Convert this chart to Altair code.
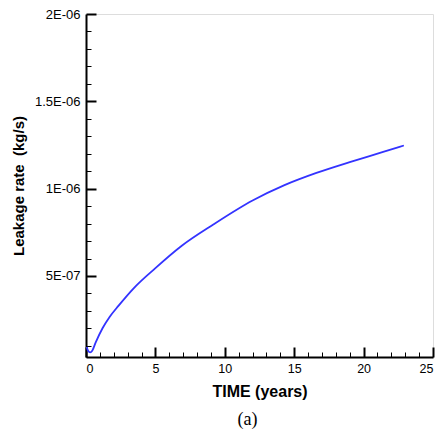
import altair as alt
import pandas as pd

# Data
time_years = [0.05, 0.15, 0.3, 0.45, 0.7, 1.2, 1.7, 2.35, 3.5, 5.0, 6.9, 9.2,
              12.0, 14.3, 16.6, 19.0, 21.35, 22.9]
leak_rate = [9.3e-8, 7.2e-8, 6.3e-8, 7.2e-8, 1.20e-7, 2.02e-7, 2.65e-7, 3.30e-7,
             4.35e-7, 5.45e-7, 6.73e-7, 7.96e-7, 9.32e-7, 1.020e-6, 1.090e-6,
             1.152e-6, 1.209e-6, 1.247e-6]

x_major = [0, 5, 10, 15, 20, 25]
x_minor = [1, 2, 3, 4, 6, 7, 8, 9, 11, 12, 13, 14, 16, 17, 18, 19, 21, 22, 23, 24]
y_major = [5e-7, 1e-6, 1.5e-6, 2e-6]
y_major_labels = ["5E-07", "1E-06", "1.5E-06", "2E-06"]
y_minor = [1e-7, 2e-7, 3e-7, 4e-7, 6e-7, 7e-7, 8e-7, 9e-7, 1.1e-6, 1.2e-6,
           1.3e-6, 1.4e-6, 1.6e-6, 1.7e-6, 1.8e-6, 1.9e-6]
x_domain = [0, 25]
y_domain = [3.6e-8, 2e-6]

df = pd.DataFrame({"t": time_years, "rate": leak_rate})

label_expr = "''"
for v, lab in zip(reversed(y_major), reversed(y_major_labels)):
    label_expr = f"abs(datum.value - {v}) < 1e-12 ? '{lab}' : ({label_expr})"

xs = alt.Scale(domain=x_domain, nice=False, zero=False)
ys = alt.Scale(domain=y_domain, nice=False, zero=False)

FONT = "Liberation Sans"

base = alt.Chart(df)

main = base.mark_line(color="#3333ff", strokeWidth=1.8, interpolate="monotone").encode(
    x=alt.X("t:Q", scale=xs, axis=alt.Axis(
        orient="bottom", values=x_major, format="d", ticks=False, domain=True,
        domainColor="black", domainWidth=2, labelFont=FONT, labelFontSize=12.5,
        labelColor="black", labelPadding=5, title="TIME (years)",
        titleFont=FONT, titleFontSize=16, titleFontWeight="bold",
        titleColor="black", titlePadding=9, grid=False)),
    y=alt.Y("rate:Q", scale=ys, axis=alt.Axis(
        orient="left", values=y_major, labelExpr=label_expr, ticks=False,
        domain=True, domainColor="black", domainWidth=2, labelFont=FONT,
        labelFontSize=13, labelColor="black", labelPadding=6,
        title="Leakage rate\u00a0\u00a0(kg/s)", titleFont=FONT, titleFontSize=15,
        titleFontWeight="bold", titleColor="black", titlePadding=8, grid=False)),
)

def tick_layer(xvals, yvals, length, width):
    return base.mark_line(strokeOpacity=0).encode(
        x=alt.X("t:Q", scale=xs, axis=alt.Axis(
            orient="bottom", values=xvals, offset=-length, tickSize=length,
            tickWidth=width, tickColor="black", labels=False, domain=False,
            title=None, grid=False)),
        y=alt.Y("rate:Q", scale=ys, axis=alt.Axis(
            orient="left", values=yvals, offset=-length, tickSize=length,
            tickWidth=width, tickColor="black", labels=False, domain=False,
            title=None, grid=False)),
    )

major_ticks = tick_layer(x_major, y_major, 10, 2)
minor_ticks = tick_layer(x_minor, y_minor, 5, 1)

chart = alt.layer(main, major_ticks, minor_ticks).resolve_axis(
    x="independent", y="independent"
).properties(
    width=347,
    height=343,
    autosize=alt.AutoSizeParams(type="none"),
    padding={"left": 78, "top": 6, "right": 6, "bottom": 74},
    title=alt.TitleParams("(a)", orient="bottom", font="Liberation Serif",
                          fontSize=18, fontWeight="normal", color="black",
                          anchor="middle", dx=-12, offset=11),
).configure_view(stroke=None).configure(background="white")

chart.save("out.html", embed_options={"renderer": "svg", "actions": False})
